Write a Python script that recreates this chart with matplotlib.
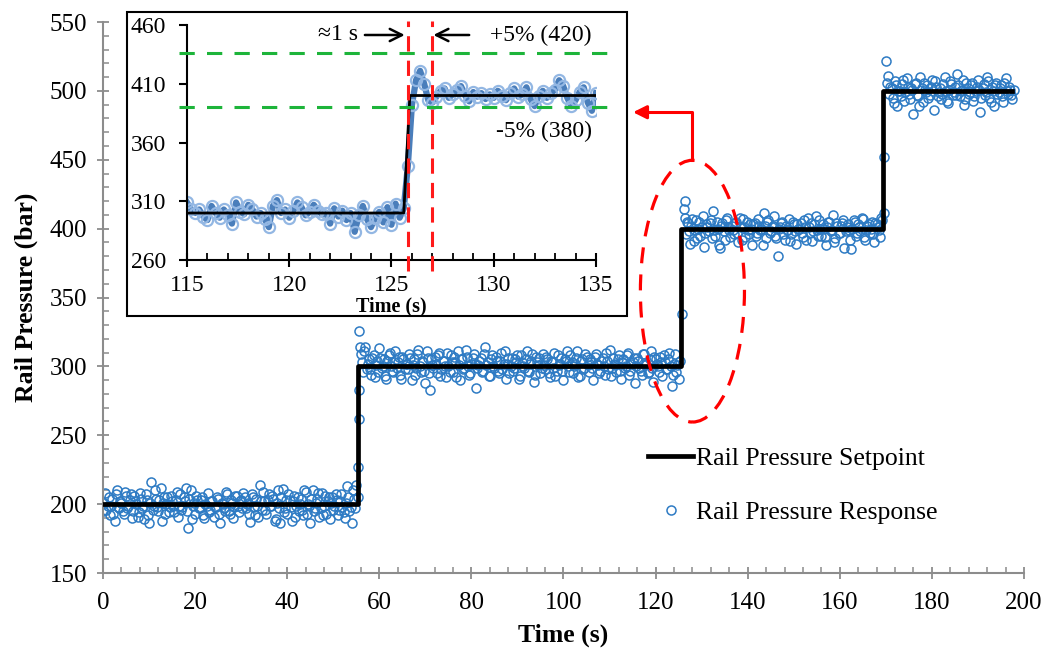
import numpy as np
import matplotlib
matplotlib.use('Agg')
from matplotlib import pyplot as plt
from matplotlib.patches import Ellipse, Rectangle

plt.rcParams['font.family'] = ['Liberation Serif', 'DejaVu Serif']

# ---- main chart data ----
# setpoint steps (time, bar)
set_times = [0, 55.3, 55.3, 125.6, 125.6, 169.4, 169.4, 197.5]
set_levels = [200, 200, 300, 300, 400, 400, 500, 500]

# response, two interleaved reads per plateau (every 0.5 s, offset 0.25 s)
dt = 0.5
seg1_start = 0.0
seg1_p = [195, 208, 199, 192, 204, 188, 210, 197, 201, 193,
          206, 199, 207, 195, 202, 191, 208, 197, 189, 203,
          186, 216, 199, 204, 195, 212, 201, 193, 205, 198,
          202, 194, 209, 199, 196, 205, 212, 183, 210, 199,
          193, 203, 197, 205, 190, 199, 194, 202, 191, 198,
          204, 186, 200, 195, 207, 193, 201, 198, 206, 194,
          203, 208, 197, 201, 187, 205, 192, 199, 214, 196,
          202, 193, 207, 199, 204, 189, 210, 186, 211, 197,
          193, 203, 188, 206, 199, 195, 204, 192, 209, 200,
          186, 210, 197, 204, 191, 208, 199, 193, 205, 201,
          196, 207, 192, 202, 198, 190, 213, 195, 186, 204]
seg1b_p = [201, 196, 205, 199, 193, 207, 198, 202, 195, 209,
           197, 203, 190, 206, 200, 194, 204, 199, 207, 192,
           201, 196, 210, 198, 203, 188, 205, 200, 194, 206,
           199, 203, 191, 207, 198, 202, 195, 204, 189, 201,
           206, 197, 203, 192, 200, 208, 196, 202, 198, 205,
           193, 201, 197, 209, 195, 203, 190, 206, 199, 202,
           197, 205, 200, 193, 207, 198, 204, 191, 202, 209,
           196, 203, 199, 206, 188, 201, 197, 205, 194, 203,
           207, 198, 202, 191, 205, 200, 196, 210, 193, 199,
           204, 195, 201, 208, 197, 192, 206, 202, 189, 205,
           199, 203, 196, 207, 194, 201, 205, 198, 210, 197]

seg2_start = 56.0
seg2_p = [309, 296, 314, 302, 298, 306, 292, 304, 313, 299,
          305, 291, 308, 300, 296, 311, 303, 294, 307, 298,
          302, 309, 290, 305, 299, 312, 296, 303, 288, 306,
          283, 301, 307, 295, 310, 298, 304, 292, 300, 308,
          296, 303, 311, 290, 305, 299, 307, 294, 302, 309,
          284, 301, 306, 297, 314, 303, 293, 308, 299, 304,
          295, 310, 302, 291, 306, 300, 297, 305, 308, 293,
          303, 299, 311, 296, 304, 289, 307, 301, 295, 309,
          298, 305, 292, 303, 310, 297, 301, 306, 290, 304,
          300, 308, 295, 302, 311, 293, 305, 299, 307, 296,
          303, 290, 309, 301, 297, 306, 294, 304, 312, 299,
          302, 296, 308, 291, 305, 300, 310, 297, 303, 288,
          306, 299, 294, 309, 302, 296, 311, 289, 305, 300,
          307, 293, 303, 298, 310, 286, 302, 296, 291]
seg2b_p = [303, 311, 298, 305, 294, 308, 301, 296, 306, 300,
           293, 304, 310, 297, 303, 299, 307, 291, 305, 302,
           298, 306, 301, 294, 309, 300, 304, 297, 311, 295,
           305, 299, 302, 308, 293, 304, 300, 310, 296, 303,
           307, 292, 301, 305, 298, 312, 300, 295, 306, 302,
           299, 304, 296, 309, 301, 293, 305, 300, 307, 297,
           304, 298, 311, 302, 295, 306, 299, 303, 291, 308,
           300, 305, 297, 302, 309, 294, 303, 306, 299, 301,
           307, 295, 304, 299, 293, 308, 302, 297, 305, 311,
           296, 303, 300, 306, 292, 304, 298, 309, 301, 305,
           299, 307, 302, 295, 304, 300, 310, 298, 293, 306,
           301, 305, 297, 303, 299, 308, 294, 302, 306, 300,
           304, 297, 309, 301, 295, 305, 299, 307, 302, 296,
           303, 308, 298, 305, 300, 294, 309, 301, 304]

seg3_start = 126.5
seg3_p = [396, 404, 389, 407, 399, 393, 405, 401, 387, 403,
          398, 406, 413, 395, 400, 386, 404, 392, 408, 399,
          402, 396, 405, 390, 401, 407, 394, 399, 403, 388,
          404, 397, 402, 400, 411, 393, 406, 398, 402, 395,
          380, 401, 405, 392, 399, 407, 396, 403, 389, 400,
          404, 394, 401, 408, 397, 391, 403, 399, 406, 395,
          400, 388, 405, 398, 410, 393, 402, 397, 404, 386,
          401, 399, 385, 406, 395, 403, 398, 407, 392, 402,
          397, 405, 390, 403, 399, 408]
seg3b_p = [405, 398, 402, 391, 406, 400, 395, 409, 397, 401,
           404, 393, 399, 405, 388, 402, 398, 406, 401, 394,
           399, 404, 397, 408, 392, 401, 405, 396, 400, 403,
           395, 407, 399, 388, 402, 405, 397, 401, 409, 393,
           400, 404, 396, 402, 399, 391, 405, 398, 403, 400,
           397, 406, 392, 401, 404, 398, 409, 395, 400, 403,
           394, 401, 405, 399, 390, 404, 397, 402, 406, 398,
           403, 392, 400, 405, 397, 401, 408, 394, 399, 403,
           400, 396, 404, 401, 394, 406]

seg4_start = 170.0
seg4_p = [522, 511, 503, 495, 507, 489, 500, 505, 493, 509,
          498, 502, 483, 506, 496, 510, 492, 501, 504, 497,
          508, 486, 503, 499, 494, 505, 500, 491, 507, 497,
          503, 512, 496, 501, 490, 506, 498, 504, 493, 500,
          508, 485, 502, 497, 510, 495, 503, 489, 506, 499,
          504, 492, 509, 498, 501, 494]
seg4b_p = [506, 498, 502, 491, 504, 500, 496, 508, 499, 503,
           494, 501, 505, 497, 489, 502, 506, 499, 495, 503,
           500, 507, 496, 502, 498, 510, 493, 501, 505, 499,
           497, 504, 500, 508, 494, 502, 499, 506, 496, 503,
           501, 495, 505, 499, 507, 492, 500, 504, 498, 502,
           496, 506, 500, 503, 497, 501]

# points caught on the steps
step_t = [55.0, 55.4, 55.4, 55.5, 55.6, 55.6, 55.7,
          125.7, 126.2, 126.3, 126.4, 169.5, 169.6]
step_p = [214, 205, 227, 262, 283, 326, 314,
          338, 414, 420, 408, 411, 452]

# ---- inset data (115-135 s, every 0.2 s) ----
inset_start = 115.0
inset_dt = 0.2
inset_p = [309, 303, 300, 303, 297, 294, 306, 300, 296, 303,
           298, 291, 309, 301, 299, 307, 303, 297, 300, 295,
           288, 306, 311, 300, 303, 296, 302, 309, 305, 298,
           301, 307, 302, 299, 300, 291, 304, 297, 302, 294,
           300, 284, 298, 306, 295, 288, 296, 301, 292, 305,
           290, 308, 296,
           304, 340, 392, 413, 421, 410, 396,
           394, 399, 404, 406, 398, 401, 405, 408, 400, 395,
           403, 399, 402, 397, 401, 398, 404, 400, 396, 402,
           406, 399, 401, 407, 397, 391, 400, 404, 398, 402,
           405, 413, 408, 398, 391, 396, 403, 407, 394, 387,
           402]
inset_set_t = [115, 125.6, 125.9, 135]
inset_set_p = [300, 300, 400, 400]
band_hi = 436
band_lo = 390
settle_lines = [125.8, 127.0]

blue = '#2e7bc4'
grey = '#8c8c8c'

fig = plt.figure(figsize=(10.47, 6.53), dpi=100)
ax = fig.add_axes([0.0984, 0.1225, 0.8796, 0.8438])

def plateau(start, vals):
    return start + dt * np.arange(len(vals))

resp_t = np.concatenate([plateau(seg1_start, seg1_p), plateau(seg1_start + 0.25, seg1b_p),
                         step_t,
                         plateau(seg2_start, seg2_p), plateau(seg2_start + 0.25, seg2b_p),
                         plateau(seg3_start, seg3_p), plateau(seg3_start + 0.25, seg3b_p),
                         plateau(seg4_start, seg4_p), plateau(seg4_start + 0.25, seg4b_p)])
resp_p = np.concatenate([seg1_p, seg1b_p, step_p, seg2_p, seg2b_p,
                         seg3_p, seg3b_p, seg4_p, seg4b_p])

ax.plot(resp_t, resp_p, ls='none', marker='o', ms=6.5, mfc='none', mec=blue,
        mew=1.1, label='Rail Pressure Response', zorder=2)
ax.plot(set_times, set_levels, color='black', lw=3.4, label='Rail Pressure Setpoint',
        zorder=3)

ax.set_xlim(0, 200)
ax.set_ylim(150, 550)
ax.set_xticks(np.arange(0, 201, 20))
ax.set_xticks(np.arange(0, 201, 4), minor=True)
ax.set_yticks(np.arange(150, 551, 50))
ax.set_yticks(np.arange(150, 551, 10), minor=True)
for s in ['top', 'right']:
    ax.spines[s].set_visible(False)
for s in ['left', 'bottom']:
    ax.spines[s].set_color(grey)
    ax.spines[s].set_linewidth(1.5)
ax.tick_params(which='major', direction='inout', length=9, width=1.3, color=grey,
               labelsize=18)
ax.tick_params(axis='x', which='major', pad=9)
ax.tick_params(axis='y', which='major', pad=7)
ax.tick_params(which='minor', direction='in', length=4, width=1.1, color=grey)
ax.set_xlabel('Time (s)', fontsize=18.5, fontweight='bold', labelpad=7)
ax.set_ylabel('Rail Pressure (bar)', fontsize=18.5, fontweight='bold', labelpad=8)

# legend
handles, labels = ax.get_legend_handles_labels()
leg = ax.legend(handles[::-1], labels[::-1], loc='upper left',
                bbox_to_anchor=(0.567, 0.27), frameon=False, fontsize=18.5,
                handlelength=1.75, handletextpad=0.1, labelspacing=1.2)

# red dashed ellipse and arrow to the inset
ax.add_patch(Ellipse((128.0, 354.6), 22.6, 190, fill=False, ec='red', lw=2.3,
                     ls=(0, (5, 3.5)), zorder=4, clip_on=False))
ax.plot([128.0, 128.0, 117.0], [449.7, 484.5, 484.5], color='red', lw=2.2,
        zorder=4, clip_on=False)
ax.annotate('', xy=(115.1, 484.5), xytext=(118.0, 484.5),
            arrowprops=dict(arrowstyle='-|>', color='red', lw=2.2,
                            mutation_scale=20, shrinkA=0, shrinkB=0),
            annotation_clip=False, zorder=4)

# inset frame
frame = Rectangle((0.1213, 0.5161), 0.4776, 0.4655, transform=fig.transFigure,
                  fc='white', ec='black', lw=1.5, zorder=2)
fig.patches.append(frame)

ins = fig.add_axes([0.1786, 0.6018, 0.3906, 0.3599], zorder=3)
ins.patch.set_alpha(0)
inset_t = inset_start + inset_dt * np.arange(len(inset_p))
ins.plot(inset_t, inset_p, color='#4a7ebb', lw=4.5, marker='o', ms=8,
         mfc='none', mec='#93b7e3', mew=1.6, zorder=2)
ins.plot(inset_set_t, inset_set_p, color='black', lw=2, zorder=3)
for y in [band_hi, band_lo]:
    ins.plot([114.6, 135.6], [y, y], color='#1db43a', lw=2.2, ls=(0, (5, 4)),
             clip_on=False, zorder=4)
for x in settle_lines:
    ins.plot([x, x], [251, 463], color='#ff1a1a', lw=2.2, ls=(0, (5, 3)),
             clip_on=False, zorder=4)

ins.set_xlim(115, 135)
ins.set_ylim(260, 460)
ins.set_xticks(np.arange(115, 136, 5))
ins.set_xticks(np.arange(115, 136, 1), minor=True)
ins.set_yticks(np.arange(260, 461, 50))
for s in ['top', 'right']:
    ins.spines[s].set_visible(False)
for s in ['left', 'bottom']:
    ins.spines[s].set_linewidth(1.5)
ins.tick_params(axis='x', which='major', direction='inout', length=10, width=1.5,
                labelsize=17, pad=6)
ins.tick_params(axis='x', which='minor', direction='in', length=5, width=1.3)
ins.tick_params(axis='y', which='major', direction='out', length=6, width=1.5,
                labelsize=17, pad=9)
ins.set_xlabel('Time (s)', fontsize=14.5, fontweight='bold', labelpad=0)

# inset annotations
ins.text(122.4, 451.5, '\u22481 s', fontsize=17, ha='center', va='center')
ins.annotate('', xy=(125.65, 451.5), xytext=(123.7, 451.5),
             arrowprops=dict(arrowstyle='->', color='black', lw=1.8,
                             mutation_scale=22, shrinkA=0, shrinkB=0))
ins.annotate('', xy=(127.05, 451.5), xytext=(128.8, 451.5),
             arrowprops=dict(arrowstyle='->', color='black', lw=1.8,
                             mutation_scale=22, shrinkA=0, shrinkB=0))
ins.text(132.3, 451.5, '+5% (420)', fontsize=17, ha='center', va='center')
ins.text(132.45, 369.5, '-5% (380)', fontsize=17, ha='center', va='center')

fig.savefig('out.png', dpi=100)
